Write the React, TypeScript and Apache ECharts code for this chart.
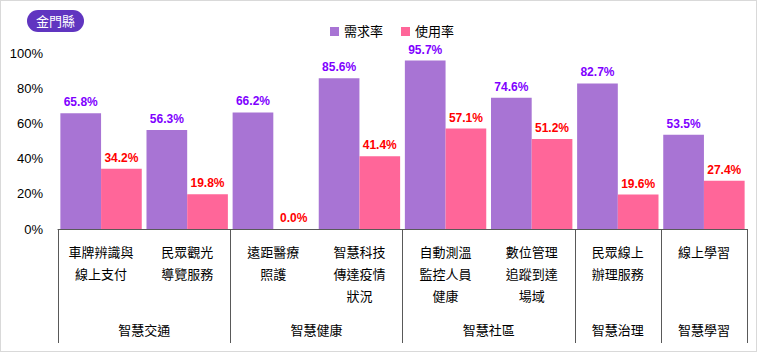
import React, { useEffect, useRef } from "react";
import * as echarts from "echarts";

const categories = [
  "車牌辨識與\n線上支付",
  "民眾觀光\n導覽服務",
  "遠距醫療\n照護",
  "智慧科技\n傳達疫情\n狀況",
  "自動測溫\n監控人員\n健康",
  "數位管理\n追蹤到達\n場域",
  "民眾線上\n辦理服務",
  "線上學習",
];
const demand = [65.8, 56.3, 66.2, 85.6, 95.7, 74.6, 82.7, 53.5];
const usage = [34.2, 19.8, 0.0, 41.4, 57.1, 51.2, 19.6, 27.4];
const groups = ["智慧交通", "智慧健康", "智慧社區", "智慧治理", "智慧學習"];
const groupSpans = [2, 2, 2, 1, 1];
const seriesNames = ["需求率", "使用率"];
const yMax = 100;
const yInterval = 20;
const badgeText = "金門縣";

const FONT = "'Liberation Sans', 'Noto Sans CJK TC', sans-serif";

export default function App() {
  const ref = useRef<HTMLDivElement>(null);
  useEffect(() => {
    if (!ref.current) return;
    const chart = echarts.init(ref.current, null, { renderer: "svg" });
    const bounds: number[] = [0];
    groupSpans.forEach((s) => bounds.push(bounds[bounds.length - 1] + s));
    const centers = groupSpans.map((s, i) => bounds[i] + s / 2);
    const fmt = (p: any) => Number(p.value).toFixed(1) + "%";
    chart.setOption({
      animation: false,
      textStyle: { fontFamily: FONT },
      title: {
        text: badgeText,
        left: 26,
        top: 9,
        backgroundColor: "#6035c0",
        borderRadius: 11,
        padding: [4, 9, 4, 9],
        textStyle: { color: "#fff", fontSize: 13, fontWeight: "normal", fontFamily: FONT, lineHeight: 14 },
      },
      legend: {
        left: 324,
        top: 19,
        icon: "rect",
        itemWidth: 9,
        itemHeight: 9,
        itemGap: 18,
        textStyle: { color: "#000", fontSize: 13, fontFamily: FONT },
        data: seriesNames,
      },
      grid: { left: 57, right: 9, top: 52, bottom: 122, containLabel: false },
      xAxis: [
        {
          type: "category",
          data: categories,
          position: "bottom",
          axisLine: { show: true, lineStyle: { color: "#595959", width: 1 } },
          axisTick: { show: false },
          axisLabel: {
            interval: 0,
            color: "#000",
            fontSize: 13,
            lineHeight: 22,
            margin: 12,
            fontFamily: FONT,
          },
        },
        {
          type: "value",
          position: "bottom",
          min: 0,
          max: bounds[bounds.length - 1],
          splitLine: { show: false },
          axisLine: { show: false },
          axisTick: {
            show: true,
            inside: false,
            length: 114,
            customValues: bounds,
            lineStyle: { color: "#595959", width: 1 },
          },
          axisLabel: {
            show: true,
            customValues: centers,
            color: "#000",
            fontSize: 13,
            lineHeight: 16,
            margin: 93,
            fontFamily: FONT,
            formatter: (v: number) => {
              const i = centers.findIndex((c) => Math.abs(c - v) < 1e-6);
              return i >= 0 ? groups[i] : "";
            },
          },
        },
      ],
      yAxis: {
        type: "value",
        min: 0,
        max: yMax,
        interval: yInterval,
        axisLine: { show: false },
        axisTick: { show: false },
        splitLine: { show: false },
        axisLabel: { formatter: "{value}%", color: "#000", fontSize: 13, margin: 15, fontFamily: FONT },
      },
      series: [
        {
          name: seriesNames[0],
          type: "bar",
          data: demand,
          barGap: "0%",
          barCategoryGap: "5.5%",
          itemStyle: { color: "#a874d4" },
          label: {
            show: true,
            position: "top",
            distance: 5,
            formatter: fmt,
            color: "#7f00ff",
            fontSize: 12,
            fontWeight: "bold",
            fontFamily: FONT,
          },
        },
        {
          name: seriesNames[1],
          type: "bar",
          data: usage,
          barGap: "0%",
          barCategoryGap: "5.5%",
          itemStyle: { color: "#ff6699" },
          label: {
            show: true,
            position: "top",
            distance: 5,
            formatter: fmt,
            color: "#ff0000",
            fontSize: 12,
            fontWeight: "bold",
            fontFamily: FONT,
          },
        },
      ],
    });
    return () => chart.dispose();
  }, []);
  return (
    <div
      style={{
        position: "absolute",
        left: 0,
        top: 0,
        width: 757,
        height: 352,
        boxSizing: "border-box",
        border: "1px solid #d9d9d9",
        background: "#fff",
      }}
    >
      <div ref={ref} style={{ width: 755, height: 350 }} />
    </div>
  );
}
